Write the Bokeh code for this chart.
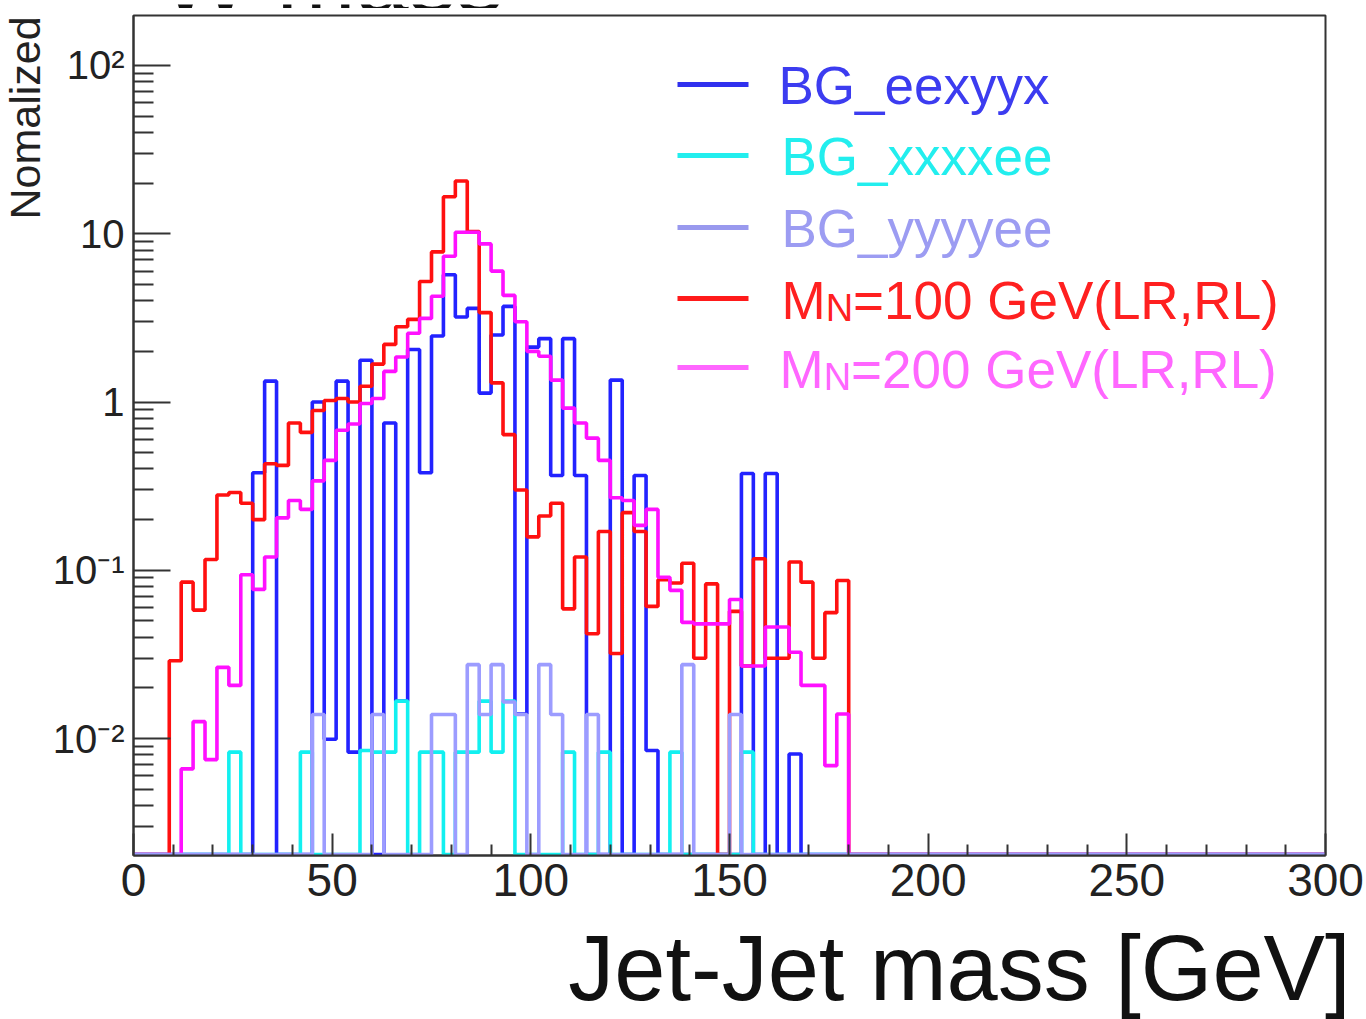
import math
from bokeh.plotting import figure
from bokeh.layouts import column, row
from bokeh.models import FixedTicker, Label, Range1d
from bokeh.embed import file_html
from bokeh.resources import INLINE

# ---------------- data (bin contents, 3 GeV bins starting at 0 GeV) ----------------
BIN_WIDTH = 3.0
N_BINS = 100  # 0 - 300 GeV

# BG_eexyyx
bg_eexyyx = [0, 0, 0, 0, 0, 0, 0, 0, 0, 0,
             0.38, 1.33, 0, 0, 0, 1.0, 0.0099, 1.33, 0.0083, 1.77,
             0, 0.75, 0.0167, 2.05, 0.38, 2.47, 5.7, 3.2, 3.6, 1.13,
             2.5, 3.7, 0.014, 2.12, 2.38, 0.366, 2.38, 0.366, 0, 0,
             1.35, 0, 0.366, 0.0085, 0, 0, 0, 0, 0, 0,
             0, 0.376, 0, 0.376, 0, 0.0081, 0, 0, 0, 0]

# BG_xxxxee
bg_xxxxee = [0, 0, 0, 0, 0, 0, 0, 0, 0.0083, 0,
             0, 0, 0, 0, 0.0083, 0, 0, 0, 0, 0.0085,
             0.0083, 0.0083, 0.0167, 0, 0.0083, 0.0083, 0, 0.0083, 0.0083, 0.0167,
             0.0083, 0.0167, 0, 0, 0, 0, 0.0083, 0, 0, 0.0083,
             0, 0, 0, 0, 0, 0.0083, 0, 0, 0, 0,
             0, 0.0083, 0, 0, 0, 0, 0, 0, 0, 0]

# BG_yyyyee
bg_yyyyee = [0, 0, 0, 0, 0, 0, 0, 0, 0, 0,
             0, 0, 0, 0, 0, 0.0139, 0, 0, 0, 0,
             0.0139, 0, 0, 0, 0, 0.0139, 0.0139, 0, 0.0275, 0.0139,
             0.0275, 0.0165, 0.0139, 0, 0.0275, 0.0139, 0, 0, 0.0139, 0,
             0, 0, 0, 0, 0, 0, 0.0275, 0, 0, 0,
             0.0139, 0, 0, 0, 0, 0, 0, 0, 0, 0]

# M_N = 100 GeV (LR,RL)
sig_mn100 = [0, 0, 0, 0.029, 0.085, 0.058, 0.116, 0.28, 0.29, 0.25,
             0.20, 0.43, 0.42, 0.75, 0.66, 0.89, 1.02, 1.05, 1.0, 1.24,
             1.68, 2.2, 2.8, 3.1, 5.2, 7.8, 16.6, 20.6, 10.3, 3.4,
             1.3, 0.64, 0.30, 0.158, 0.21, 0.25, 0.059, 0.12, 0.042, 0.17,
             0.032, 0.22, 0.17, 0.061, 0.088, 0.084, 0.11, 0.030, 0.083, 0,
             0.057, 0.027, 0.117, 0.030, 0.030, 0.112, 0.085, 0.030, 0.056, 0.087]

# M_N = 200 GeV (LR,RL)
sig_mn200 = [0, 0, 0, 0, 0.0066, 0.0126, 0.0075, 0.0265, 0.0207, 0.094,
             0.077, 0.12, 0.205, 0.26, 0.23, 0.34, 0.45, 0.68, 0.74, 0.98,
             1.05, 1.52, 1.85, 2.56, 3.14, 4.25, 7.35, 10.2, 10.2, 8.7,
             6.0, 4.3, 3.0, 2.0, 1.87, 1.35, 0.92, 0.75, 0.61, 0.45,
             0.27, 0.26, 0.185, 0.23, 0.091, 0.076, 0.049, 0.048, 0.048, 0.048,
             0.067, 0.027, 0.027, 0.046, 0.046, 0.0326, 0.0207, 0.0207, 0.0069, 0.014]

x_ticks = [0, 50, 100, 150, 200, 250, 300]
y_ticks = [0.01, 0.1, 1, 10, 100]
y_tick_labels = ["10\u207b\u00b2", "10\u207b\u00b9", "1", "10", "10\u00b2"]

legend_names = ["BG_eexyyx", "BG_xxxxee", "BG_yyyyee"]
signal_labels = ["=100 GeV(LR,RL)", "=200 GeV(LR,RL)"]
x_title = "Jet-Jet mass [GeV]"
y_title = "Nomalized"
plot_title = "W mass"

# ---------------- layout / style ----------------
FONT = "Liberation Sans"
MID = 0.3465  # em offset between alphabetic baseline and "middle"
W, H = 1366, 1019
TOP_H = 8          # strip holding the cut-off title
BOT_H = 104        # strip holding the x-axis title
LEFT_W = 48        # strip holding the y-axis title
MID_H = H - TOP_H - BOT_H
FX0, FX1, FY0, FY1 = 133, 1325, 15, 855  # frame in page pixels
XMIN, XMAX = 0.0, 300.0
LOG_YMIN, LOG_YMAX = -2.695, 2.297
YMIN, YMAX = 10 ** LOG_YMIN, 10 ** LOG_YMAX
XT_SIZE = 92
YT_SIZE = 43


def fx(px):
    return XMIN + (px - FX0) * (XMAX - XMIN) / (FX1 - FX0)


def fy(py):
    return 10 ** (LOG_YMAX - (py - FY0) * (LOG_YMAX - LOG_YMIN) / (FY1 - FY0))


def strip(w, h):
    f = figure(width=w, height=h, x_range=Range1d(0, w), y_range=Range1d(0, h),
               x_axis_location=None, y_axis_location=None, output_backend="svg",
               toolbar_location=None, min_border=0)
    f.title.visible = False
    f.xgrid.visible = False
    f.ygrid.visible = False
    f.grid.visible = False
    f.outline_line_color = None
    f.background_fill_color = "white"
    f.border_fill_color = "white"
    return f


FLOOR = fy(854)  # empty bins are drawn on the frame bottom

p = figure(width=W - LEFT_W, height=MID_H, x_range=Range1d(XMIN, XMAX),
           y_range=Range1d(YMIN, YMAX), y_axis_type="log", output_backend="svg",
           toolbar_location=None, min_border_left=FX0 - LEFT_W, min_border_right=W - FX1,
           min_border_top=FY0 - TOP_H, min_border_bottom=TOP_H + MID_H - FY1)
p.title.visible = False
p.grid.visible = False
p.background_fill_color = "white"
p.border_fill_color = "white"
p.outline_line_color = "#333333"
p.outline_line_width = 2

edges = [i * BIN_WIDTH for i in range(N_BINS + 1)]


def draw_hist(vals, color, width=3.6):
    full = list(vals) + [0] * (N_BINS - len(vals))
    ys = [v if v > 0 else FLOOR for v in full]
    ys = ys + [ys[-1]]
    p.step(edges, ys, mode="after", line_color=color, line_width=width)


draw_hist(bg_eexyyx, "#2222ff")
draw_hist(bg_xxxxee, "#12f0f0")
draw_hist(sig_mn100, "#ff1010")
draw_hist(sig_mn200, "#ff10ff")
draw_hist(bg_yyyyee, "#9c9cff")

# ---------------- axes ----------------
xa = p.xaxis[0]
xa.ticker = FixedTicker(ticks=x_ticks, minor_ticks=[v for v in range(10, 300, 10) if v % 50])
xa.major_tick_in = 22
xa.major_tick_out = 0
xa.minor_tick_in = 11
xa.minor_tick_out = 0
xa.major_tick_line_color = "#333333"
xa.minor_tick_line_color = "#333333"
xa.major_tick_line_width = 2
xa.minor_tick_line_width = 2
xa.axis_line_color = "#333333"
xa.axis_line_width = 2
xa.major_label_text_font = FONT
xa.major_label_text_font_size = "46px"
xa.major_label_text_color = "#222222"
xa.major_label_standoff = 8

ya = p.yaxis[0]
minor_y = [k * 10 ** e for e in range(-3, 3) for k in range(2, 10)]
minor_y = [v for v in minor_y if YMIN < v < YMAX]
ya.ticker = FixedTicker(ticks=y_ticks, minor_ticks=minor_y)
ya.major_tick_in = 37
ya.major_tick_out = 0
ya.minor_tick_in = 20
ya.minor_tick_out = 0
ya.major_tick_line_color = "#333333"
ya.minor_tick_line_color = "#333333"
ya.major_tick_line_width = 2
ya.minor_tick_line_width = 2
ya.axis_line_color = "#333333"
ya.axis_line_width = 2
ya.major_label_overrides = dict(zip(y_ticks, y_tick_labels))
ya.major_label_text_font = FONT
ya.major_label_text_font_size = "40px"
ya.major_label_text_color = "#222222"
ya.major_label_standoff = 9

# ---------------- legend ----------------
legend_rows = [84, 155, 227, 298, 367]
legend_line_colors = ["#3030ee", "#22eeee", "#9999ee", "#ff1a1a", "#ff66ff"]
legend_text_colors = ["#3c3cf0", "#22eeee", "#9c9cf2", "#ff2020", "#ff66ff"]
for i, r in enumerate(legend_rows):
    p.segment(x0=[fx(677)], y0=[fy(r)], x1=[fx(748)], y1=[fy(r)],
              line_color=legend_line_colors[i], line_width=5)


def page_label(fig, px, py_base, text, size, color, align="left"):
    # py_base = alphabetic baseline in page pixels; drawn with a "middle" baseline
    fig.add_layout(Label(x=fx(px), y=fy(py_base - MID * size), text=text, text_align=align,
                         text_baseline="middle", text_font=FONT, text_font_size=f"{size}px",
                         text_color=color))


for i, name in enumerate(legend_names):
    page_label(p, 778 if i == 0 else 781, legend_rows[i] + 19, name, 53, legend_text_colors[i])
for j, lab in enumerate(signal_labels):
    i = 3 + j
    x0 = 781 if j == 0 else 779
    base = legend_rows[i] + 20
    col = legend_text_colors[i]
    page_label(p, x0, base, "M", 53, col)
    xn = x0 + 0.833 * 53
    page_label(p, xn, base + 3, "N", 38, col)
    page_label(p, xn + 0.722 * 38, base, lab, 53, col)

# ---------------- strips for the texts outside the frame ----------------
top = strip(W, TOP_H)
top.add_layout(Label(x=160, y=TOP_H - (7 - MID * 95), text=plot_title, text_align="left",
                     text_baseline="middle", text_font=FONT, text_font_size="95px",
                     text_color="#111111"))

left = strip(LEFT_W, MID_H)
left.add_layout(Label(x=LEFT_W / 2, y=TOP_H + MID_H - 9, text=y_title, angle=math.pi / 2,
                      text_align="right", text_baseline="middle", text_font=FONT,
                      text_font_size=f"{YT_SIZE}px", text_color="#222222"))

bottom = strip(W, BOT_H)
bottom.add_layout(Label(x=1350, y=H - (999 - MID * XT_SIZE), text=x_title, text_align="right",
                        text_baseline="middle", text_font=FONT,
                        text_font_size=f"{XT_SIZE}px", text_color="#111111"))

layout = column(top, row(left, p, spacing=0), bottom, spacing=0)
open("out.html", "w").write(file_html(layout, INLINE))
